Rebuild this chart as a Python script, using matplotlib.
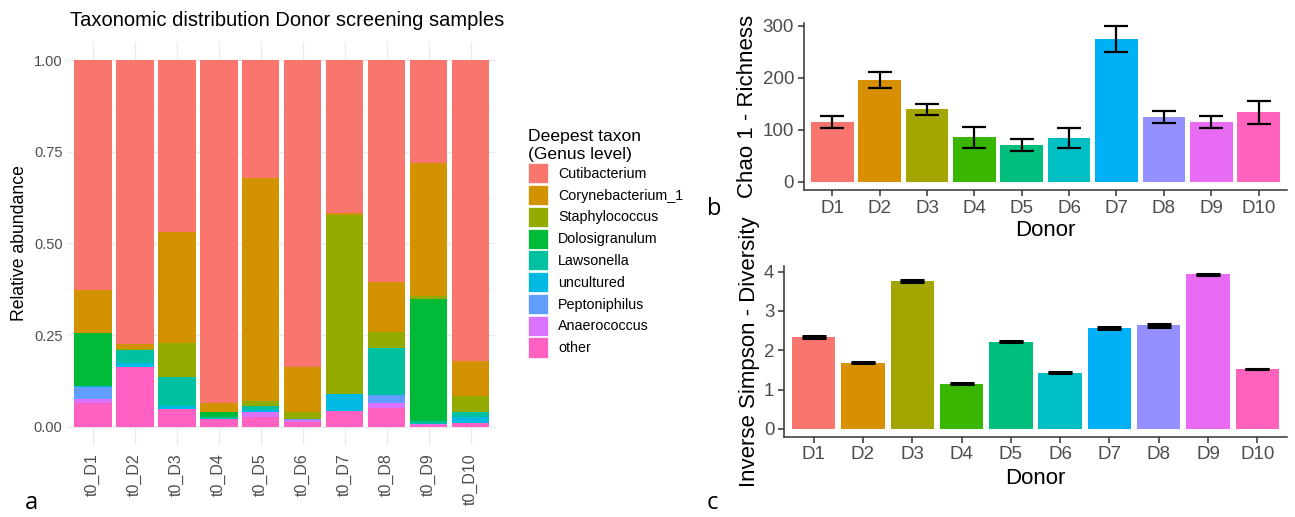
import matplotlib.pyplot as plt
import numpy as np
from matplotlib.patches import Patch

plt.rcParams['font.family'] = ['Liberation Sans', 'DejaVu Sans']

# panel a: relative abundance per sample
samples = ['t0_D1', 't0_D2', 't0_D3', 't0_D4', 't0_D5',
           't0_D6', 't0_D7', 't0_D8', 't0_D9', 't0_D10']
taxa = ['Cutibacterium', 'Corynebacterium_1', 'Staphylococcus', 'Dolosigranulum',
        'Lawsonella', 'uncultured', 'Peptoniphilus', 'Anaerococcus', 'other']
taxa_colors = ['#F8766D', '#D39200', '#93AA00', '#00BA38', '#00C19F',
               '#00B9E3', '#619CFF', '#DB72FB', '#FF61C3']

cuti = [0.627, 0.775, 0.470, 0.936, 0.323, 0.836, 0.418, 0.605, 0.280, 0.820]
coryne = [0.118, 0.013, 0.301, 0.023, 0.606, 0.125, 0.005, 0.138, 0.364, 0.096]
staph = [0.000, 0.003, 0.094, 0.000, 0.015, 0.019, 0.489, 0.043, 0.008, 0.043]
dolo = [0.143, 0.000, 0.000, 0.015, 0.000, 0.000, 0.000, 0.000, 0.332, 0.000]
laws = [0.000, 0.036, 0.080, 0.006, 0.010, 0.000, 0.000, 0.128, 0.009, 0.016]
uncult = [0.003, 0.011, 0.008, 0.000, 0.005, 0.000, 0.045, 0.000, 0.000, 0.016]
pepto = [0.034, 0.000, 0.000, 0.000, 0.000, 0.003, 0.000, 0.022, 0.000, 0.000]
anaero = [0.011, 0.000, 0.000, 0.000, 0.016, 0.003, 0.000, 0.012, 0.002, 0.000]
other = [0.064, 0.162, 0.047, 0.020, 0.025, 0.014, 0.043, 0.052, 0.005, 0.009]

# panels b, c
donors = ['D1', 'D2', 'D3', 'D4', 'D5', 'D6', 'D7', 'D8', 'D9', 'D10']
donor_colors = ['#F8766D', '#D89000', '#A3A500', '#39B600', '#00BF7D',
                '#00BFC4', '#00B0F6', '#9590FF', '#E76BF3', '#FF62BC']
chao1 = [115, 196, 139, 86, 71, 84, 274, 125, 115, 134]
chao1_err = [11, 15, 10, 20, 12, 19, 25, 11, 12, 22]
invsimpson = [2.34, 1.68, 3.76, 1.15, 2.22, 1.43, 2.56, 2.63, 3.93, 1.52]
invsimpson_err = [0.025, 0.015, 0.025, 0.005, 0.015, 0.015, 0.02, 0.03, 0.02, 0.005]

fig = plt.figure(figsize=(12.95, 5.17), dpi=100)

# ---- panel a ----
ax = fig.add_axes([0.0521, 0.1393, 0.3307, 0.780])
x = np.arange(len(samples))
stack = [other, anaero, pepto, uncult, laws, dolo, staph, coryne, cuti]
stack_colors = taxa_colors[::-1]
bottom = np.zeros(len(samples))
for vals, col in zip(stack, stack_colors):
    ax.bar(x, vals, width=0.9, bottom=bottom, color=col, zorder=2)
    bottom += np.array(vals)
ax.set_xlim(-0.6, 9.6)
ax.set_ylim(-0.05, 1.05)
ax.set_yticks([0, 0.25, 0.5, 0.75, 1.0])
ax.set_yticklabels(['0.00', '0.25', '0.50', '0.75', '1.00'])
ax.set_yticks([0.125, 0.375, 0.625, 0.875], minor=True)
ax.set_xticks(x)
ax.set_xticklabels(samples, rotation=90)
ax.tick_params(length=0, labelcolor='#4D4D4D', which='both')
ax.tick_params(axis='y', labelsize=10.5)
ax.tick_params(axis='x', labelsize=11.5, pad=6)
ax.grid(True, which='major', color='#EBEBEB', lw=0.9, zorder=0)
ax.grid(True, which='minor', axis='y', color='#F5F5F5', lw=0.6, zorder=0)
for s in ax.spines.values():
    s.set_visible(False)
ax.set_ylabel('Relative abundance', fontsize=12.7)
ax.yaxis.set_label_coords(-0.092, 0.5)
fig.text(70 / 1295, 1 - 21 / 517, 'Taxonomic distribution Donor screening samples',
         fontsize=14.5, va='center', ha='left')

handles = [Patch(facecolor=c, edgecolor='white', lw=0.5) for c in taxa_colors]
leg = fig.legend(handles, taxa, loc='upper left',
                 bbox_to_anchor=(521 / 1295, 1 - 122 / 517),
                 title='Deepest taxon\n(Genus level)', frameon=False,
                 fontsize=10.3, title_fontsize=12.6, handlelength=1.4,
                 handleheight=1.78, labelspacing=0.12, handletextpad=0.7,
                 borderpad=0, alignment='left')

# ---- panel b ----
axb = fig.add_axes([0.6208, 0.6325, 0.373, 0.323])
xd = np.arange(len(donors))
axb.bar(xd, chao1, width=0.9, color=donor_colors, zorder=2)
axb.errorbar(xd, chao1, yerr=chao1_err, fmt='none', ecolor='black',
             elinewidth=1.6, capsize=8.5, capthick=1.6, zorder=3)
axb.set_xlim(-0.6, 9.6)
axb.set_ylim(-15.5, 305)
axb.set_yticks([0, 100, 200, 300])
axb.set_xticks(xd)
axb.set_xticklabels(donors)
axb.set_xlabel('Donor', fontsize=16)
axb.set_ylabel('Chao 1 - Richness', fontsize=16)
axb.xaxis.set_label_coords(0.5, -0.18)
axb.yaxis.set_label_coords(-0.095, 0.5)

# ---- panel c ----
axc = fig.add_axes([0.6054, 0.1553, 0.3884, 0.330])
axc.bar(xd, invsimpson, width=0.88, color=donor_colors, zorder=2)
axc.errorbar(xd, invsimpson, yerr=invsimpson_err, fmt='none', ecolor='black',
             elinewidth=2, capsize=8.7, capthick=2.2, zorder=3)
axc.set_xlim(-0.6, 9.6)
axc.set_ylim(-0.2, 4.14)
axc.set_yticks([0, 1, 2, 3, 4])
axc.set_xticks(xd)
axc.set_xticklabels(donors)
axc.set_xlabel('Donor', fontsize=16)
axc.set_ylabel('Inverse Simpson - Diversity', fontsize=16)
axc.xaxis.set_label_coords(0.5, -0.185)
axc.yaxis.set_label_coords(-0.048, 0.5)

for a in (axb, axc):
    for side in ('top', 'right'):
        a.spines[side].set_visible(False)
    for side in ('left', 'bottom'):
        a.spines[side].set_color('#333333')
        a.spines[side].set_linewidth(1.1)
    a.tick_params(labelsize=13.5, labelcolor='#4D4D4D', color='#333333',
                  length=4, width=1.1, pad=3)

letter_font = ['Open Sans', 'DejaVu Sans']
fig.text(25 / 1295, 0.004, 'a', fontsize=17, va='bottom', family=letter_font)
fig.text(707 / 1295, 1 - 215 / 517, 'b', fontsize=17, va='baseline', family=letter_font)
fig.text(707 / 1295, 0.004, 'c', fontsize=17, va='bottom', family=letter_font)

fig.savefig('out.png', dpi=100)
